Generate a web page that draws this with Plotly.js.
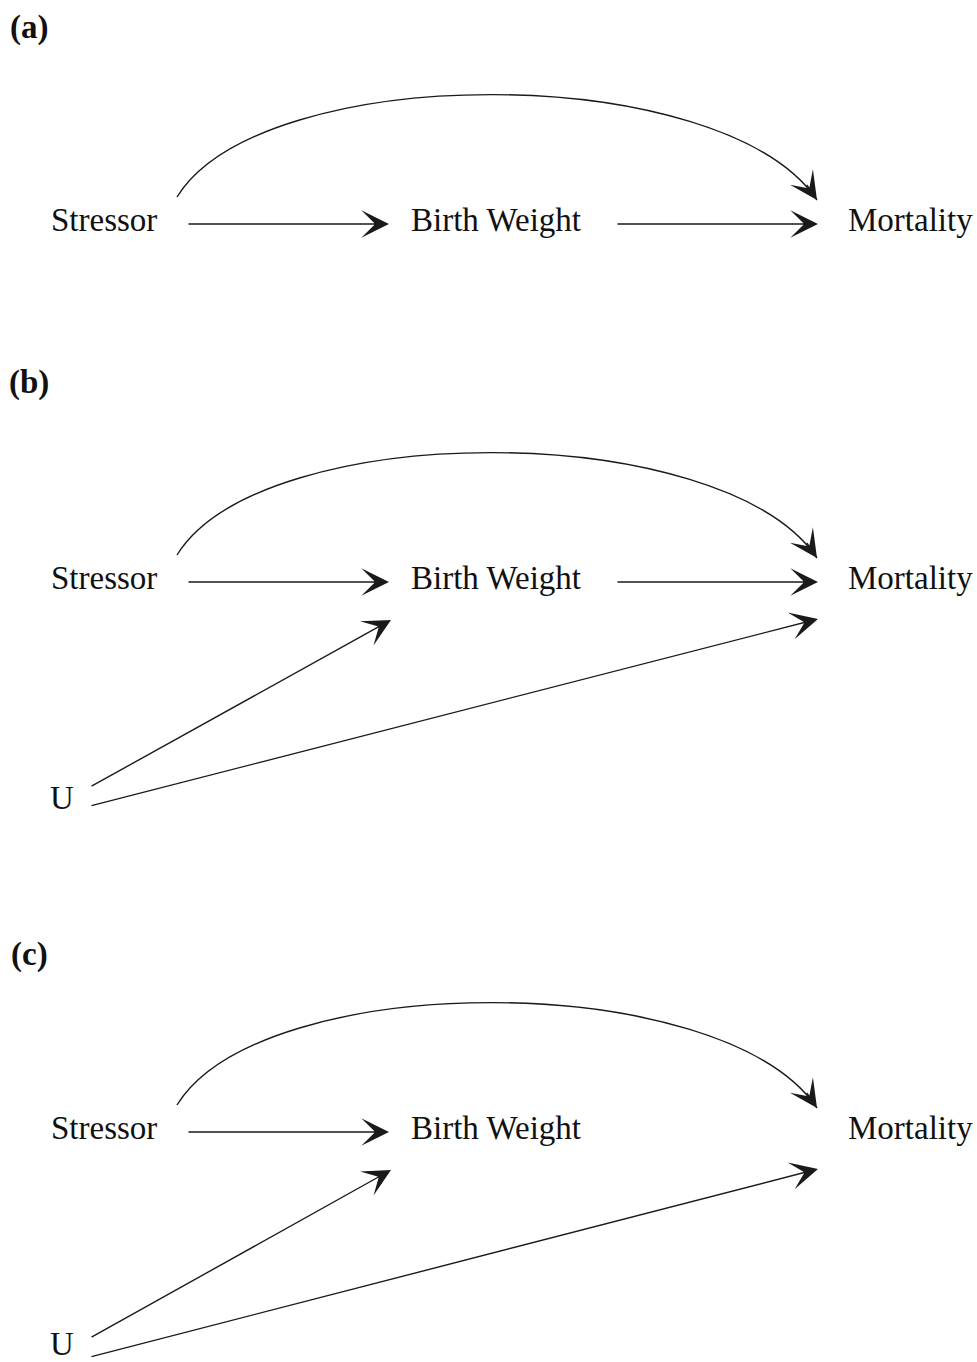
<!DOCTYPE html>
<html>
<head>
<meta charset="utf-8">
<script src="https://cdn.plot.ly/plotly-3.0.1.min.js"></script>
<style>html,body{margin:0;padding:0;background:#fff}</style>
</head>
<body>
<div id="chart" style="width:977px;height:1362px"></div>
<script>
// ---- data: the three causal diagrams ----
const panelNames = ['(a)', '(b)', '(c)'];
const nodeNames = ['Stressor', 'Birth Weight', 'Mortality', 'U'];
const nodesA = ['Stressor', 'Birth Weight', 'Mortality'];
const nodesB = ['Stressor', 'Birth Weight', 'Mortality', 'U'];
const nodesC = ['Stressor', 'Birth Weight', 'Mortality', 'U'];
const straightEdgesA = [['Stressor', 'Birth Weight'], ['Birth Weight', 'Mortality']];
const straightEdgesB = [['Stressor', 'Birth Weight'], ['Birth Weight', 'Mortality'], ['U', 'Birth Weight'], ['U', 'Mortality']];
const straightEdgesC = [['Stressor', 'Birth Weight'], ['U', 'Birth Weight'], ['U', 'Mortality']];
const curvedEdgesA = [['Stressor', 'Mortality']];
const curvedEdgesB = [['Stressor', 'Mortality']];
const curvedEdgesC = [['Stressor', 'Mortality']];

// ---- layout (pixel-like coordinates of the drawing canvas) ----
const panels = [
  {name: panelNames[0], nodes: nodesA, straight: straightEdgesA, curved: curvedEdgesA, labelY: 27, rowY: 220, uY: null, uText: null},
  {name: panelNames[1], nodes: nodesB, straight: straightEdgesB, curved: curvedEdgesB, labelY: 382, rowY: 578, uY: 798, uText: 798},
  {name: panelNames[2], nodes: nodesC, straight: straightEdgesC, curved: curvedEdgesC, labelY: 954, rowY: 1128, uY: 1349, uText: 1344}
];
const nodeX = {'Stressor': 104, 'Birth Weight': 496, 'Mortality': 910, 'U': 62};

// edge endpoints relative to the panel rows
function edgePoints(p, from, to) {
  const r = p.rowY + 4;
  if (from === 'Stressor' && to === 'Birth Weight') return [[187, r], [389, r]];
  if (from === 'Birth Weight' && to === 'Mortality') return [[616, r], [818, r]];
  if (from === 'U' && to === 'Birth Weight') return [[90, p.uY - 11], [391, p.rowY + 42]];
  if (from === 'U' && to === 'Mortality') return [[90, p.uY + 8], [818, p.rowY + 41]];
  return null;
}

const font = {family: '"Liberation Serif", "Times New Roman", serif', size: 33, color: '#111'};
const lineColor = '#1a1a1a';
const annotations = [];
const shapes = [];

function arrow(tail, tip) {
  annotations.push({
    x: tip[0], y: tip[1], ax: tail[0], ay: tail[1],
    xref: 'x', yref: 'y', axref: 'x', ayref: 'y',
    text: '', showarrow: true, arrowhead: 3, arrowsize: 3.3, arrowwidth: 1.4,
    arrowcolor: lineColor, standoff: 0, startstandoff: 0
  });
}

panels.forEach(p => {
  annotations.push({
    x: 29, y: p.labelY, xref: 'x', yref: 'y', text: '<b>' + p.name + '</b>',
    showarrow: false, xanchor: 'center', yanchor: 'middle', font: font
  });
  p.nodes.forEach(n => {
    const y = n === 'U' ? p.uText : p.rowY;
    annotations.push({
      x: nodeX[n], y: y, xref: 'x', yref: 'y', text: n,
      showarrow: false, xanchor: 'center', yanchor: 'middle', font: font
    });
  });
  p.straight.forEach(e => {
    const pts = edgePoints(p, e[0], e[1]);
    arrow(pts[0], pts[1]);
  });
  p.curved.forEach(e => {
    const s = [177, p.rowY - 23];
    const t = [817, p.rowY - 20];
    const c1 = [262, p.rowY - 160];
    const c2 = [722, p.rowY - 160];
    shapes.push({
      type: 'path', xref: 'x', yref: 'y',
      path: `M${s[0]},${s[1]} C${c1[0]},${c1[1]} ${c2[0]},${c2[1]} ${t[0]},${t[1]}`,
      line: {color: lineColor, width: 1.4}
    });
    const dx = t[0] - c2[0], dy = t[1] - c2[1];
    const L = Math.hypot(dx, dy);
    arrow([t[0] - 20 * dx / L, t[1] - 20 * dy / L], t);
  });
});

const layout = {
  width: 977, height: 1362,
  margin: {l: 0, r: 0, t: 0, b: 0},
  paper_bgcolor: '#fff', plot_bgcolor: '#fff',
  showlegend: false,
  xaxis: {range: [0, 977], visible: false, fixedrange: true},
  yaxis: {range: [1362, 0], visible: false, fixedrange: true},
  annotations: annotations,
  shapes: shapes
};

Plotly.newPlot('chart', [{x: [], y: [], type: 'scatter', mode: 'markers', hoverinfo: 'skip'}], layout, {staticPlot: true});
</script>
</body>
</html>
